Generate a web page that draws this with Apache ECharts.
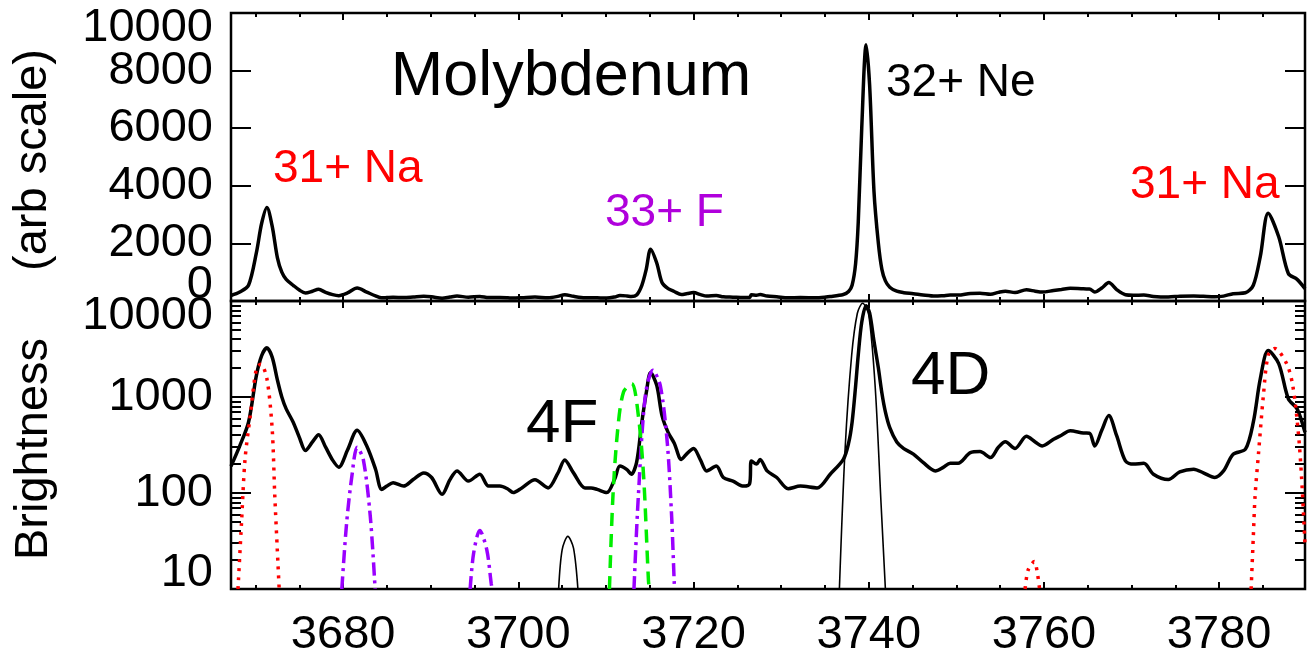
<!DOCTYPE html>
<html>
<head>
<meta charset="utf-8">
<script src="https://cdn.jsdelivr.net/npm/echarts@6/dist/echarts.min.js"></script>
<style>
  html, body { margin: 0; padding: 0; background: #fff; }
  #chart { width: 1314px; height: 660px; }
</style>
</head>
<body>
<div id="chart"></div>
<script>
// Mo spectrum around 3670-3790 (wavelength, brightness)
const wavelength = [
  3667.2, 3668.2, 3669.2, 3670.1, 3670.7, 3671.3, 3671.9, 3672.5, 3673.0, 3673.5,
  3674.3, 3675.0, 3675.7, 3676.5, 3677.2, 3678.0, 3678.8, 3679.5, 3680.5, 3681.6,
  3682.7, 3683.7, 3684.4, 3685.0, 3685.7, 3686.9, 3688.0, 3689.2, 3690.1, 3691.3,
  3692.2, 3693.0, 3694.3, 3695.6, 3696.6, 3697.9, 3698.8, 3699.4, 3700.4, 3701.9,
  3703.4, 3704.5, 3705.3, 3706.3, 3707.6, 3708.3, 3709.0, 3710.1, 3711.0, 3711.6,
  3712.4, 3712.9, 3713.5, 3714.1, 3714.6, 3715.1, 3715.8, 3716.4, 3717.1, 3717.8,
  3718.6, 3719.3, 3720.0, 3720.8, 3721.5, 3722.6, 3723.4, 3724.5, 3725.7, 3726.4,
  3726.6, 3727.2, 3727.6, 3728.4, 3729.5, 3730.8, 3732.2, 3734.1, 3735.6, 3737.1,
  3737.7, 3738.1, 3738.5, 3738.8, 3739.2, 3739.7, 3740.1, 3740.6, 3741.1, 3741.5,
  3741.9, 3742.4, 3743.2, 3744.0, 3745.1, 3746.2, 3747.6, 3748.5, 3749.3, 3750.2,
  3751.6, 3752.7, 3753.9, 3754.8, 3755.6, 3756.7, 3758.0, 3759.0, 3759.8, 3761.1,
  3762.0, 3763.0, 3764.5, 3765.2, 3765.8, 3766.6, 3767.4, 3768.3, 3769.3, 3770.2,
  3771.4, 3772.5, 3774.2, 3775.5, 3777.1, 3778.2, 3779.5, 3780.5, 3781.6, 3783.0,
  3783.9, 3784.7, 3785.6, 3786.8, 3787.9, 3788.9, 3789.8
];
const brightness = [
  190, 310, 546, 1680, 2700, 3250, 2600, 1500, 1000, 752,
  546, 380, 277, 340, 405, 300, 220, 186, 280, 450,
  309, 177, 109, 118, 128, 118, 138, 162, 145, 97,
  138, 170, 133, 157, 118, 118, 110, 101, 113, 137,
  113, 160, 221, 162, 113, 113, 109, 101, 140, 191,
  175, 157, 208, 546, 1100, 1800, 1320, 640, 428, 330,
  224, 260, 291, 220, 170, 191, 145, 133, 118, 125,
  216, 200, 224, 170, 145, 111, 118, 113, 157, 224,
  330, 546, 1300, 2720, 6000, 8900, 7500, 3800, 2000, 1100,
  700, 480, 340, 290, 254, 208, 170, 185, 204, 204,
  263, 270, 234, 300, 342, 291, 389, 340, 309, 363,
  400, 445, 422, 420, 309, 450, 640, 395, 216, 200,
  204, 157, 138, 166, 177, 162, 145, 170, 254, 286,
  546, 1550, 3050, 2230, 956, 752, 428
];

// Model line profiles, [wavelength, brightness]
const naLeftModel = [[3668.0, 10], [3668.4, 49], [3668.8, 224], [3669.4, 640], [3670.1, 1980], [3670.6, 2200], [3671.3, 1550], [3671.9, 465], [3672.2, 93], [3672.7, 10]];
const naMidModel = [[3757.85, 10], [3758.2, 15.8], [3758.9, 19.3], [3759.25, 14.6], [3759.5, 10]];
const naRightModel = [[3783.65, 10], [3783.9, 35], [3784.1, 93], [3784.5, 263], [3785.05, 1040], [3785.6, 2720], [3786.35, 3200], [3787.7, 2230], [3788.4, 1320], [3789.0, 465], [3789.4, 150], [3789.8, 29]];
const fA = [[3679.85, 10], [3680.4, 49], [3681.0, 150], [3681.6, 299], [3682.3, 224], [3683.1, 57], [3683.65, 10]];
const fB = [[3694.5, 10], [3694.9, 23.7], [3695.6, 40.8], [3696.4, 25.6], [3696.9, 11.5], [3697.0, 10]];
const fC = [[3713.2, 10], [3713.7, 93], [3714.5, 1040], [3715.35, 1900], [3716.2, 1320], [3717.0, 336], [3717.5, 57], [3717.8, 11.5], [3717.85, 10]];
const f4Model = [[3710.4, 10], [3710.8, 93], [3711.35, 465], [3712.0, 1120], [3712.95, 1380], [3713.7, 640], [3714.3, 150], [3714.85, 12.4], [3714.95, 10]];
const neSmall = [[3704.6, 10], [3705.0, 25.6], [3705.65, 35.3], [3706.3, 26.7], [3706.8, 10]];
const neMain = [[3736.65, 10], [3737.3, 286], [3738.05, 2720], [3738.7, 7450], [3739.3, 9480], [3740.0, 7150], [3740.75, 1220], [3741.4, 79], [3741.9, 10]];

// Axis ticks and labels
const xMajor = [3680, 3700, 3720, 3740, 3760, 3780];
const xMinor = [3670, 3675, 3685, 3690, 3695, 3705, 3710, 3715, 3725, 3730, 3735, 3745, 3750, 3755, 3765, 3770, 3775, 3785];
const linTicks = [0, 2000, 4000, 6000, 8000, 10000];
const linEndLabels = [0, 10000];
const linInnerLabels = [2000, 4000, 6000, 8000];
const logMajor = [10, 100, 1000, 10000];
const logMinor = [20, 30, 40, 50, 60, 70, 80, 90, 200, 300, 400, 500, 600, 700, 800, 900, 2000, 3000, 4000, 5000, 6000, 7000, 8000, 9000];

const FONT = '"Liberation Sans", Arial, Helvetica, sans-serif';
const X_MIN = 3667.2, X_MAX = 3789.8;

const pairs = (xs, ys) => xs.map((x, i) => [x, ys[i]]);
const spectrum = pairs(wavelength, brightness);
const plain = v => String(Math.round(v));

function xAx(gridIndex, position, ticks, len, labels) {
  return {
    type: 'value', gridIndex, position, min: X_MIN, max: X_MAX,
    axisLine: { show: false, onZero: false },
    splitLine: { show: false },
    axisTick: { show: true, inside: true, length: len, interval: 0, customValues: ticks, lineStyle: { color: '#000', width: 2 } },
    axisLabel: labels ? {
      show: true, customValues: ticks, interval: 0, margin: 23, color: '#000',
      fontFamily: FONT, fontSize: 47, formatter: plain, hideOverlap: false
    } : { show: false }
  };
}

// Labels at the ends of an axis sit inside the frame; `ends` turns that on
function yAx(gridIndex, position, type, min, max, ticks, len, labels, ends) {
  const a = {
    type, gridIndex, position, min, max,
    axisLine: { show: false, onZero: false },
    splitLine: { show: false },
    axisTick: ticks
      ? { show: true, inside: true, length: len, interval: 0, customValues: ticks, lineStyle: { color: '#000', width: 2 } }
      : { show: false },
    axisLabel: labels ? {
      show: true, customValues: labels, interval: 0, margin: 18, color: '#000',
      fontFamily: FONT, fontSize: 47, lineHeight: 31, formatter: plain,
      showMinLabel: true, showMaxLabel: true, hideOverlap: false
    } : { show: false }
  };
  if (labels && ends) {
    a.axisLabel.verticalAlignMinLabel = 'bottom';
    a.axisLabel.verticalAlignMaxLabel = 'top';
  }
  if (type === 'log') a.logBase = 10;
  return a;
}

const thick = { color: '#000', width: 3.5 };
const modelLine = (data, color, width, dash) => ({
  type: 'line', xAxisIndex: 4, yAxisIndex: 3, data,
  showSymbol: false, smooth: 0.3, silent: true, animation: false,
  lineStyle: { color, width, type: dash, cap: 'butt' }
});

const RED = '#FF0000', VIOLET = '#9A00FF', GREEN = '#00EE00';

function txt(text, x, y, size, color, align) {
  return {
    type: 'text', x, y, silent: true, z: 50,
    style: {
      text, fill: color, font: size + 'px ' + FONT,
      fontSize: size, fontFamily: FONT,
      textAlign: align, align: align, textVerticalAlign: 'middle', verticalAlign: 'middle'
    }
  };
}
function vtxt(text, x, y, size) {
  const t = txt(text, x, y, size, '#000', 'center');
  t.rotation = Math.PI / 2;
  return t;
}

const option = {
  backgroundColor: '#fff',
  animation: false,
  grid: [
    { left: 231, top: 13, width: 1074, height: 288, show: true, borderColor: '#000', borderWidth: 2.5, backgroundColor: 'transparent' },
    { left: 231, top: 301, width: 1074, height: 288, show: true, borderColor: '#000', borderWidth: 2.5, backgroundColor: 'transparent' }
  ],
  xAxis: [
    xAx(0, 'bottom', xMajor, 7, false),
    xAx(0, 'bottom', xMinor, 4, false),
    xAx(0, 'top', xMajor, 7, false),
    xAx(0, 'top', xMinor, 4, false),
    xAx(1, 'bottom', xMajor, 7, true),
    xAx(1, 'bottom', xMinor, 4, false),
    xAx(1, 'top', xMajor, 7, false),
    xAx(1, 'top', xMinor, 4, false)
  ],
  yAxis: [
    yAx(0, 'left', 'value', 0, 10000, linTicks, 20, linEndLabels, true),
    yAx(0, 'left', 'value', 0, 10000, null, 0, linInnerLabels, false),
    yAx(0, 'right', 'value', 0, 10000, linTicks, 20, null, false),
    yAx(1, 'left', 'log', 10, 10000, logMajor, 20, logMajor, true),
    yAx(1, 'left', 'log', 10, 10000, logMinor, 10, null, false),
    yAx(1, 'right', 'log', 10, 10000, logMajor, 20, null, false),
    yAx(1, 'right', 'log', 10, 10000, logMinor, 10, null, false)
  ],
  series: [
    { type: 'line', xAxisIndex: 0, yAxisIndex: 0, data: spectrum, showSymbol: false, smooth: 0.3, lineStyle: thick },
    { type: 'line', xAxisIndex: 4, yAxisIndex: 3, data: spectrum, showSymbol: false, smooth: 0.3, lineStyle: thick },
    modelLine(naLeftModel, RED, 3.5, [3, 6]),
    modelLine(naMidModel, RED, 3.5, [3, 6]),
    modelLine(naRightModel, RED, 3.5, [3, 6]),
    modelLine(fA, VIOLET, 3.5, [13, 5, 3, 5]),
    modelLine(fB, VIOLET, 3.5, [13, 5, 3, 5]),
    modelLine(fC, VIOLET, 3.5, [13, 5, 3, 5]),
    modelLine(f4Model, GREEN, 3.5, [13, 8]),
    modelLine(neSmall, '#000', 1.6, 'solid'),
    modelLine(neMain, '#000', 1.6, 'solid')
  ],
  graphic: [
    txt('Molybdenum', 571, 78, 63, '#000', 'center'),
    txt('32+ Ne', 886, 83, 46, '#000', 'left'),
    txt('31+ Na', 273, 169, 46, RED, 'left'),
    txt('31+ Na', 1130, 185, 46, RED, 'left'),
    txt('33+ F', 605, 213, 46, '#B000DC', 'left'),
    txt('4F', 526, 425, 62, '#000', 'left'),
    txt('4D', 911, 377, 62, '#000', 'left'),
    vtxt('(arb scale)', 33, 160, 47),
    vtxt('Brightness', 34, 449, 47)
  ]
};

const chart = echarts.init(document.getElementById('chart'), null, { renderer: 'canvas' });
chart.setOption(option);
</script>
</body>
</html>
